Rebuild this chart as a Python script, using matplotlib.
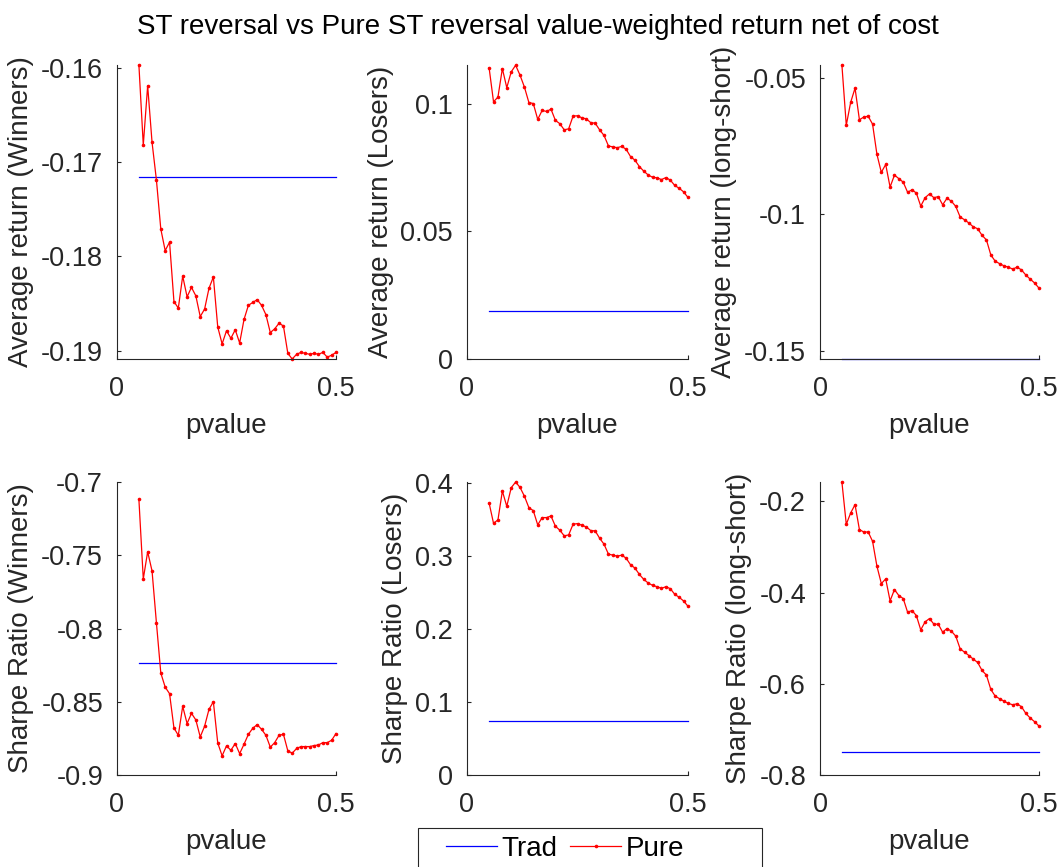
import numpy as np
import matplotlib
matplotlib.use("Agg")
import matplotlib.pyplot as plt
from matplotlib.patches import Rectangle

plt.rcParams['font.family'] = ['Liberation Sans', 'DejaVu Sans']

# p-value thresholds used for the Pure ST reversal sorts (0.05:0.01:0.50)
pvalue = np.linspace(0.05, 0.50, 46)

# Traditional ST reversal (constant across thresholds)
trad_ret_win = -0.1716
trad_ret_los = 0.0189
trad_ret_ls = -0.1530
trad_sr_win = -0.8236
trad_sr_los = 0.0736
trad_sr_ls = -0.7489

# Pure ST reversal, average returns
pure_ret_win = [-0.1597, -0.1682, -0.1619, -0.1679, -0.1719, -0.1771, -0.1794, -0.1785,
                -0.1848, -0.1855, -0.1821, -0.1843, -0.1833, -0.1842, -0.1864, -0.1856,
                -0.1834, -0.1822, -0.1875, -0.1893, -0.1879, -0.1887, -0.1878, -0.1892,
                -0.1867, -0.1852, -0.1849, -0.1846, -0.1852, -0.1862, -0.1881, -0.1877,
                -0.1871, -0.1874, -0.1903, -0.1909, -0.1904, -0.1902, -0.1903, -0.1904,
                -0.1903, -0.1904, -0.1902, -0.1907, -0.1905, -0.1902]
pure_ret_los = [0.1141, 0.1008, 0.1026, 0.1138, 0.1063, 0.1125, 0.1151, 0.1112,
                0.1065, 0.1005, 0.1001, 0.0939, 0.0974, 0.0970, 0.0979, 0.0935,
                0.0922, 0.0898, 0.0902, 0.0952, 0.0953, 0.0945, 0.0941, 0.0926,
                0.0924, 0.0898, 0.0876, 0.0835, 0.0831, 0.0828, 0.0833, 0.0822,
                0.0793, 0.0779, 0.0754, 0.0736, 0.0721, 0.0712, 0.0710, 0.0703,
                0.0711, 0.0701, 0.0680, 0.0669, 0.0655, 0.0633]
pure_ret_ls = [-0.0452, -0.0673, -0.0589, -0.0537, -0.0653, -0.0643, -0.0640, -0.0669,
               -0.0780, -0.0846, -0.0817, -0.0900, -0.0856, -0.0869, -0.0882, -0.0919,
               -0.0910, -0.0922, -0.0970, -0.0939, -0.0925, -0.0939, -0.0935, -0.0965,
               -0.0941, -0.0952, -0.0971, -0.1010, -0.1020, -0.1032, -0.1046, -0.1053,
               -0.1077, -0.1094, -0.1149, -0.1172, -0.1181, -0.1189, -0.1194, -0.1201,
               -0.1194, -0.1204, -0.1223, -0.1238, -0.1252, -0.1271]

# Pure ST reversal, Sharpe ratios
pure_sr_win = [-0.7119, -0.7662, -0.7476, -0.7607, -0.7961, -0.8304, -0.8400, -0.8445,
               -0.8679, -0.8729, -0.8531, -0.8649, -0.8579, -0.8624, -0.8740, -0.8667,
               -0.8552, -0.8500, -0.8781, -0.8869, -0.8801, -0.8831, -0.8785, -0.8854,
               -0.8790, -0.8722, -0.8681, -0.8656, -0.8688, -0.8729, -0.8810, -0.8779,
               -0.8729, -0.8722, -0.8835, -0.8851, -0.8819, -0.8806, -0.8806, -0.8806,
               -0.8799, -0.8795, -0.8779, -0.8779, -0.8763, -0.8717]
pure_sr_los = [0.3723, 0.3445, 0.3491, 0.3886, 0.3677, 0.3932, 0.4009, 0.3936,
               0.3814, 0.3659, 0.3618, 0.3423, 0.3523, 0.3523, 0.3545, 0.3405,
               0.3350, 0.3273, 0.3286, 0.3432, 0.3441, 0.3418, 0.3395, 0.3345,
               0.3341, 0.3241, 0.3159, 0.3023, 0.3009, 0.2995, 0.3009, 0.2968,
               0.2877, 0.2832, 0.2745, 0.2677, 0.2627, 0.2595, 0.2577, 0.2555,
               0.2577, 0.2550, 0.2473, 0.2432, 0.2382, 0.2309]
pure_sr_ls = [-0.1576, -0.2504, -0.2255, -0.2073, -0.2620, -0.2672, -0.2672, -0.2876,
              -0.3423, -0.3803, -0.3701, -0.4182, -0.3934, -0.4066, -0.4131, -0.4431,
              -0.4394, -0.4504, -0.4818, -0.4642, -0.4569, -0.4693, -0.4693, -0.4869,
              -0.4788, -0.4847, -0.4956, -0.5234, -0.5307, -0.5380, -0.5460, -0.5533,
              -0.5708, -0.5810, -0.6124, -0.6270, -0.6328, -0.6380, -0.6431, -0.6460,
              -0.6438, -0.6504, -0.6650, -0.6752, -0.6832, -0.6927]

ylabels = ["Average return (Winners)", "Average return (Losers)", "Average return (long-short)",
           "Sharpe Ratio (Winners)", "Sharpe Ratio (Losers)", "Sharpe Ratio (long-short)"]
trad_vals = [trad_ret_win, trad_ret_los, trad_ret_ls, trad_sr_win, trad_sr_los, trad_sr_ls]
pure_vals = [pure_ret_win, pure_ret_los, pure_ret_ls, pure_sr_win, pure_sr_los, pure_sr_ls]
yticks = [[-0.19, -0.18, -0.17, -0.16], [0, 0.05, 0.1], [-0.15, -0.1, -0.05],
          [-0.9, -0.85, -0.8, -0.75, -0.7], [0, 0.1, 0.2, 0.3, 0.4], [-0.8, -0.6, -0.4, -0.2]]
yticklabels = [["-0.19", "-0.18", "-0.17", "-0.16"], ["0", "0.05", "0.1"],
               ["-0.15", "-0.1", "-0.05"],
               ["-0.9", "-0.85", "-0.8", "-0.75", "-0.7"], ["0", "0.1", "0.2", "0.3", "0.4"],
               ["-0.8", "-0.6", "-0.4", "-0.2"]]
ylims = [(-0.1909, -0.1597), (0, 0.1152), (-0.1531, -0.0452),
         (-0.9, -0.7), (0, 0.401), (-0.8, -0.1576)]

W, H = 1061, 867
fig = plt.figure(figsize=(W / 100, H / 100), dpi=100)

col_left = [117, 467, 820]
col_width = [219, 221, 219]
row_top = [65, 482]
row_bottom = [359, 775]

axis_gray = (0.15, 0.15, 0.15)
fs_tick = 19.5
fs_label = 20

for i in range(6):
    r, c = divmod(i, 3)
    x0 = col_left[c] / W
    y0 = 1 - row_bottom[r] / H
    w = col_width[c] / W
    h = (row_bottom[r] - row_top[r]) / H
    ax = fig.add_axes([x0, y0, w, h])
    h_trad, = ax.plot(pvalue, np.full(len(pvalue), trad_vals[i]), color=(0, 0, 1),
                      lw=0.9, clip_on=False)
    h_pure, = ax.plot(pvalue, pure_vals[i], color=(1, 0, 0), lw=0.9, marker='o',
                      markersize=2.6, markeredgewidth=0, clip_on=False)
    ax.set_xlim(0, 0.5)
    ax.set_ylim(*ylims[i])
    ax.set_xticks([0, 0.5])
    ax.set_xticklabels(["0", "0.5"])
    ax.set_yticks(yticks[i])
    ax.set_yticklabels(yticklabels[i])
    for side in ("top", "right"):
        ax.spines[side].set_visible(False)
    for side in ("left", "bottom"):
        ax.spines[side].set_color(axis_gray)
        ax.spines[side].set_linewidth(0.8)
    ax.tick_params(direction='in', length=3, width=0.8, colors=axis_gray,
                   labelsize=fs_tick, labelcolor=axis_gray)
    ax.tick_params(axis='x', pad=12)
    ax.tick_params(axis='y', pad=10)
    # the bottom-centre x label sits under the legend box, so it is left out
    if i != 4:
        ax.set_xlabel("pvalue", fontsize=fs_label, color=axis_gray, labelpad=8)
    ax.set_ylabel(ylabels[i], fontsize=fs_label, color=axis_gray, labelpad=5)

fig.text(537.5 / W, 1 - 27 / H,
         "ST reversal vs Pure ST reversal value-weighted return net of cost",
         ha='center', va='center', fontsize=20, color='black')

# Legend box along the bottom edge
fig.patches.append(Rectangle((418 / W, 1 - 880 / H), (762 - 418) / W, (880 - 828) / H,
                             transform=fig.transFigure, facecolor='white',
                             edgecolor=axis_gray, linewidth=0.8, zorder=10))
leg = fig.legend([h_trad, h_pure], ["Trad", "Pure"], loc='center left',
                 bbox_to_anchor=(446 / W, 1 - 849 / H), ncol=2, frameon=False,
                 fontsize=fs_label, handlelength=1.85, handletextpad=0.15,
                 columnspacing=0.45, borderpad=0, borderaxespad=0)
leg.set_zorder(11)

fig.savefig("out.png", dpi=100)
